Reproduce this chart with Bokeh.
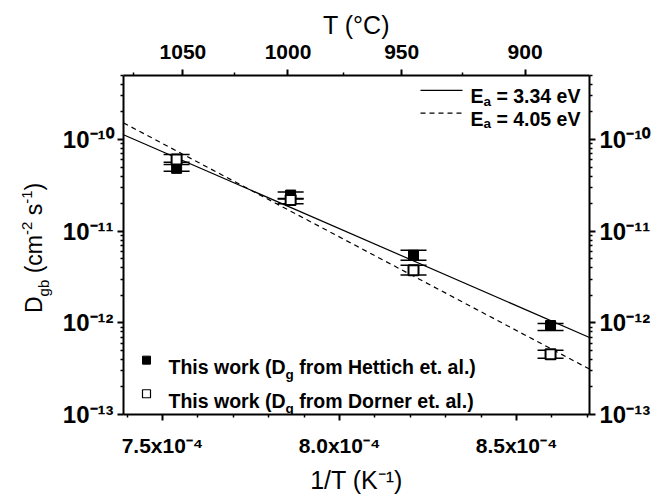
import math
from bokeh.plotting import figure
from bokeh.layouts import row
from bokeh.models import (LinearAxis, LogAxis, FixedTicker, Label, Whisker,
                          TeeHead, ColumnDataSource, Div)
from bokeh.embed import file_html
from bokeh.resources import INLINE

# ---------------- data ----------------
inv_T = [7.54e-4, 7.862e-4, 8.209e-4, 8.596e-4]          # 1/T (K^-1)

d_hettich    = [4.85e-11, 2.48e-11, 5.46e-12, 9.35e-13]
d_hettich_hi = [5.64e-11, 2.67e-11, 6.18e-12, 9.83e-13]
d_hettich_lo = [4.50e-11, 2.25e-11, 4.82e-12, 8.26e-13]

d_dorner     = [6.07e-11, 2.19e-11, 3.76e-12, 4.55e-13]
d_dorner_hi  = [6.87e-11, 2.28e-11, 4.26e-12, 5.03e-13]
d_dorner_lo  = [5.36e-11, 1.99e-11, 3.32e-12, 4.12e-13]

fit_x   = [7.39e-4, 8.706e-4]
fit_334 = [1.13e-10, 6.93e-13]    # Ea = 3.34 eV
fit_405 = [1.52e-10, 3.13e-13]    # Ea = 4.05 eV

x_ticks       = [7.5e-4, 8.0e-4, 8.5e-4]
x_tick_labels = ["7.5x10\u207b\u2074", "8.0x10\u207b\u2074", "8.5x10\u207b\u2074"]
x_minor       = [7.4e-4, 7.6e-4, 7.7e-4, 7.8e-4, 7.9e-4, 8.1e-4, 8.2e-4,
                 8.3e-4, 8.4e-4, 8.6e-4, 8.7e-4]

y_ticks       = [1e-13, 1e-12, 1e-11, 1e-10]
y_tick_labels = ["10\u207b\u00b9\u00b3", "10\u207b\u00b9\u00b2",
                 "10\u207b\u00b9\u00b9", "10\u207b\u00b9\u2070"]

top_temps_c   = [1050, 1000, 950, 900]
top_minor_c   = [1075, 1025, 975, 925, 875]

XMIN, XMAX = 7.39e-4, 8.706e-4
YMIN, YMAX = 1e-13, 5e-10

# ---------------- layout helpers (page pixels -> data) ----------------
FL, FR, FT, FB = 123, 589, 75, 418
DIV_W = 56
PAGE_W, PAGE_H = 653, 496


def px_x(px):
    return XMIN + (px - FL) / (FR - FL) * (XMAX - XMIN)


def px_y(py):
    lo, hi = math.log10(YMIN), math.log10(YMAX)
    return 10 ** (lo + (FB - py) / (FB - FT) * (hi - lo))


FONT = "Liberation Sans"

p = figure(width=PAGE_W - DIV_W, height=PAGE_H, x_range=(XMIN, XMAX), y_range=(YMIN, YMAX),
           y_axis_type="log", output_backend="svg", toolbar_location=None,
           min_border_left=FL - DIV_W, min_border_right=PAGE_W - FR, min_border_top=FT,
           min_border_bottom=PAGE_H - FB)
p.xgrid.visible = False
p.ygrid.visible = False
p.outline_line_color = None


def style_axis(ax, size):
    ax.axis_line_width = 2
    ax.major_tick_line_width = 2
    ax.minor_tick_line_width = 1.5
    ax.major_tick_in = 0
    ax.minor_tick_in = 0
    ax.major_tick_out = 6
    ax.minor_tick_out = 3
    ax.major_label_text_font = FONT
    ax.major_label_text_font_style = "bold"
    ax.major_label_text_font_size = size
    ax.major_label_text_color = "black"
    ax.axis_label_text_font = FONT
    ax.axis_label_text_font_style = "normal"
    ax.axis_label_text_font_size = "25px"
    ax.axis_label_text_color = "black"


# bottom axis
xb = p.xaxis[0]
xb.ticker = FixedTicker(ticks=x_ticks, minor_ticks=x_minor)
xb.major_label_overrides = dict(zip(x_ticks, x_tick_labels))
xb.axis_label = "1/T (K\u207b\u00b9)"
style_axis(xb, "21px")
xb.major_label_standoff = 13
xb.axis_label_standoff = 6

# left axis
ylog_ticker = FixedTicker(ticks=y_ticks,
                          minor_ticks=[k * 10.0 ** e for e in range(-13, -9) for k in range(2, 10)])
yl = p.yaxis[0]
yl.ticker = ylog_ticker
yl.major_label_overrides = dict(zip(y_ticks, y_tick_labels))
style_axis(yl, "24px")
yl.major_label_standoff = 4

# right axis
yr = LogAxis(ticker=ylog_ticker, major_label_overrides=dict(zip(y_ticks, y_tick_labels)))
style_axis(yr, "24px")
yr.major_label_standoff = 4
p.add_layout(yr, "right")

# top axis (temperature in degC)
top_pos = [1.0 / (t + 273.15) for t in top_temps_c]
top_minor = [1.0 / (t + 273.15) for t in top_minor_c]
xt = LinearAxis(ticker=FixedTicker(ticks=top_pos, minor_ticks=top_minor),
                major_label_overrides={pos: str(t) for pos, t in zip(top_pos, top_temps_c)},
                axis_label="T (\u00b0C)")
style_axis(xt, "21px")
xt.major_label_standoff = 11
xt.axis_label_standoff = 3
p.add_layout(xt, "above")

# fit lines
p.line(fit_x, fit_334, line_color="black", line_width=1.2)
p.line(fit_x, fit_405, line_color="black", line_width=1.2, line_dash="5 4")

# error bars
for y, lo, hi in [(d_hettich, d_hettich_lo, d_hettich_hi), (d_dorner, d_dorner_lo, d_dorner_hi)]:
    src = ColumnDataSource(dict(x=inv_T, y=y, lo=lo, hi=hi))
    p.add_layout(Whisker(source=src, base="x", upper="hi", lower="lo", dimension="height",
                         line_width=1.5, line_color="black",
                         upper_head=TeeHead(size=26, line_width=1.5, line_color="black"),
                         lower_head=TeeHead(size=26, line_width=1.5, line_color="black")))

# data points
p.scatter(inv_T, d_hettich, marker="square", size=10, fill_color="black", line_color="black")
p.scatter(inv_T, d_dorner, marker="square", size=10, fill_color="white", line_color="black",
          line_width=2)

# ---------- legends (drawn by hand, because of the subscripts) ----------
p.line([px_x(420), px_x(462)], [px_y(90), px_y(90)], line_color="black", line_width=1.2)
p.line([px_x(420), px_x(462)], [px_y(113), px_y(113)], line_color="black", line_width=1.2,
       line_dash="5 4")


def add_text(px, py, txt, size, bold=True):
    p.add_layout(Label(x=px_x(px), y=px_y(py), text=txt,
                       text_font=FONT, text_font_size=f"{size}px",
                       text_font_style="bold" if bold else "normal",
                       text_color="black", text_align="left",
                       text_baseline="alphabetic"))


LS, SS = 19.5, 13.5
for yy, ea in [(96, "3.34"), (119, "4.05")]:
    add_text(470, yy, "E", LS)
    add_text(470 + 0.667 * LS, yy + 5, "a", SS)
    add_text(470 + 0.667 * LS + 0.556 * SS + 0.278 * LS, yy, f"= {ea} eV", LS)

p.scatter([px_x(146)], [px_y(363)], marker="square", size=8, fill_color="black", line_color="black")
p.scatter([px_x(146)], [px_y(397)], marker="square", size=8, fill_color="white", line_color="black",
          line_width=1.2)
for yy, who in [(370, "Hettich"), (404, "Dorner")]:
    add_text(168, yy, "This work (D", LS)
    add_text(168 + 6.001 * LS, yy + 8, "g", SS)
    add_text(168 + 6.001 * LS + 0.611 * SS + 0.278 * LS, yy, f"from {who} et. al.)", LS)

# ---------- y axis title (HTML, for the sub- and superscripts) ----------
YS, SUB = 23, 15
sub = f'<span style="font-size:{SUB}px; position:relative; top:7px;">'
sup = f'<span style="font-size:{SUB}px; position:relative; top:-10px;">'
ylabel_html = (
    '<div style="width:0; height:0; overflow:visible;">'
    f'<div style="position:relative; left:23px; top:313px; width:200px; height:{YS}px;'
    ' transform-origin:0 0; transform:rotate(-90deg); white-space:nowrap;'
    f" font-family:'{FONT}'; font-size:{YS}px; line-height:{YS}px; color:#000;\">"
    f'D{sub}gb</span> (cm{sup}-2</span> s{sup}-1</span>)</div></div>'
)
ylabel = Div(text=ylabel_html, width=DIV_W, height=PAGE_H, margin=0)

layout = row(ylabel, p, spacing=0)

open("out.html", "w").write(file_html(layout, INLINE))
